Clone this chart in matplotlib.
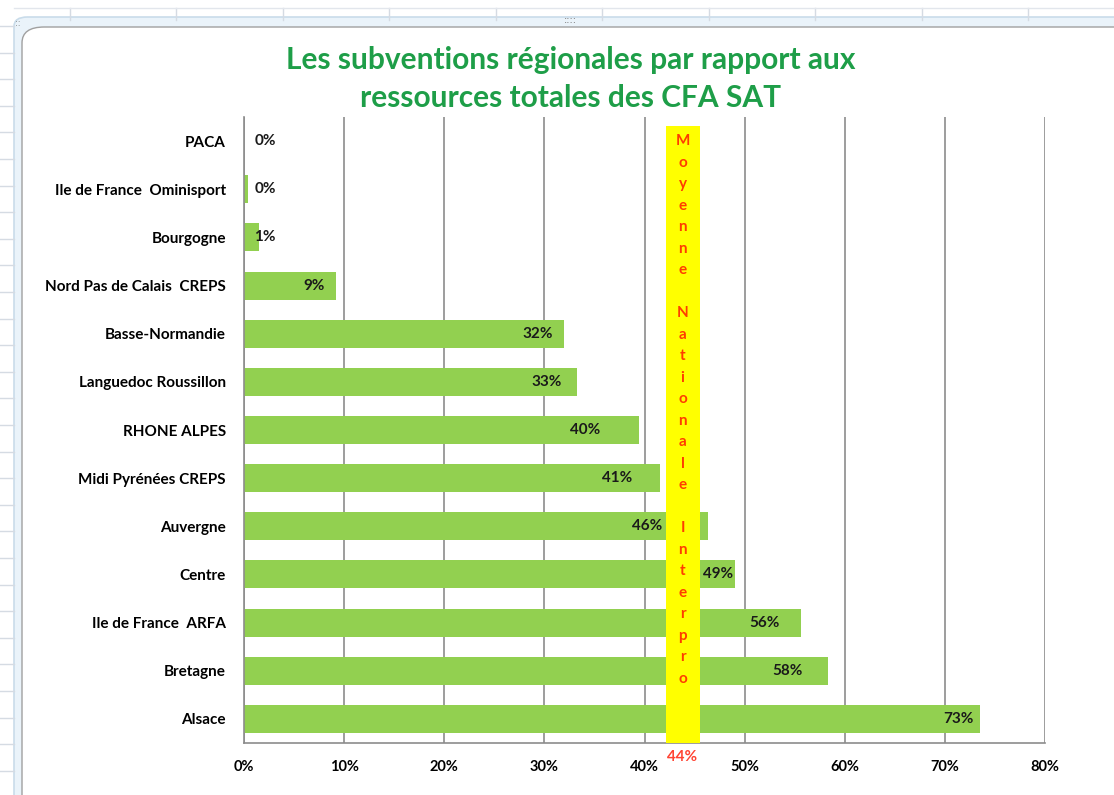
import matplotlib.pyplot as plt
from matplotlib.patches import FancyBboxPatch
from matplotlib.lines import Line2D

# ---------------- Data ----------------
regions = ["PACA", "Ile de France  Ominisport", "Bourgogne", "Nord Pas de Calais  CREPS",
           "Basse-Normandie", "Languedoc Roussillon", "RHONE ALPES", "Midi Pyrénées CREPS",
           "Auvergne", "Centre", "Ile de France  ARFA", "Bretagne", "Alsace"]
shares = [0.0, 0.4, 1.5, 9.2, 32.0, 33.3, 39.5, 41.5, 46.3, 49.0, 55.6, 58.3, 73.5]
share_labels = ["0%", "0%", "1%", "9%", "32%", "33%", "40%", "41%", "46%", "49%", "56%", "58%", "73%"]
mean_value = 44
mean_text = "Moyenne\n\nNationale\n\nInterpro"
x_ticks = [0, 10, 20, 30, 40, 50, 60, 70, 80]

# label right edges (in % units), as placed on the original chart
label_right = [3.2, 3.2, 3.2, 8.1, 30.9, 31.7, 35.6, 38.8, 41.8, 48.9, 53.5, 55.8, 72.9]

FONT = "Lato"
BAR_COLOR = "#92D050"
GRID_COLOR = "#8C8C8C"
TITLE_COLOR = "#1E9E48"
MEAN_COLOR = "#FF3C00"

fig = plt.figure(figsize=(11.14, 7.95), dpi=100)
fig.patch.set_facecolor("white")

# ---------------- spreadsheet background ----------------
W, H = 1114, 795
for x in [70, 176, 283, 389, 496, 602, 709, 815, 922, 1028]:
    fig.add_artist(Line2D([x / W, x / W], [1 - 8 / H, 1 - 20 / H], color="#D5DBE3", lw=1))
fig.add_artist(Line2D([14 / W, 1.0], [1 - 8 / H, 1 - 8 / H], color="#E2E6EC", lw=1))
y = 26
while y < H:
    fig.add_artist(Line2D([0, 14 / W], [1 - y / H, 1 - y / H], color="#D5DBE3", lw=1))
    y += 26.6
fig.add_artist(FancyBboxPatch((14 / W, -0.05), 1.1, 1 - 17 / H + 0.05,
                              boxstyle="round,pad=0,rounding_size=0.012",
                              transform=fig.transFigure, facecolor="#EAF3FA",
                              edgecolor="#C9DCEA", lw=1.2, zorder=0))
fig.add_artist(FancyBboxPatch((22 / W, -0.05), 1.1, 1 - 27 / H + 0.05,
                              boxstyle="round,pad=0,rounding_size=0.02",
                              transform=fig.transFigure, facecolor="white",
                              edgecolor="#A0A0A0", lw=1.0, zorder=0))
fig.text(570 / W, 1 - 20 / H, "::::", ha="center", va="center", fontsize=7, color="#707070")
fig.text(18 / W, 1 - 24 / H, "::", ha="center", va="center", fontsize=6, color="#707070")

# ---------------- chart ----------------
ax = fig.add_axes([244 / W, 1 - 743 / H, (1045 - 244) / W, (743 - 117) / H])
ax.set_facecolor("none")

ypos = list(range(len(regions)))
ax.barh(ypos, shares, height=0.58, color=BAR_COLOR, zorder=2)

ax.set_xlim(0, 80)
ax.set_ylim(len(regions) - 0.5, -0.5)
ax.set_xticks(x_ticks)
ax.set_xticklabels([f"{t}%" for t in x_ticks], fontsize=10.5, fontweight="bold", family=FONT)
ax.set_yticks(ypos)
ax.set_yticklabels(regions, fontsize=11, fontweight="bold", family=FONT)
ax.tick_params(axis="y", length=0, pad=13)
ax.tick_params(axis="x", length=0, pad=12)
ax.xaxis.grid(True, color=GRID_COLOR, lw=1.2, zorder=1)
ax.set_axisbelow(True)
for side in ["top", "right"]:
    ax.spines[side].set_visible(False)
for side in ["left", "bottom"]:
    ax.spines[side].set_color(GRID_COLOR)
    ax.spines[side].set_linewidth(1.2)

for i, (lab, xr) in enumerate(zip(share_labels, label_right)):
    ax.text(xr, i, lab, ha="right", va="center", fontsize=11, fontweight="bold",
            family=FONT, color="#1A1A1A", zorder=3)

# national average band
band_left, band_right = mean_value - 1.9, mean_value + 1.5
band_top = -0.31
ax.fill_between([band_left, band_right], band_top, len(regions) - 0.5,
                color="#FFFF00", zorder=4, lw=0)
center = (band_left + band_right) / 2
k = 0
for word in mean_text.split("\n"):
    if not word:
        k += 1
        continue
    for ch in word:
        ax.text(center, k * 0.4465, ch, ha="center", va="center", fontsize=11,
                fontweight="bold", family=FONT, color=MEAN_COLOR, zorder=5)
        k += 1
ax.annotate(f"{mean_value}%", xy=(center, 0), xycoords=("data", "axes fraction"),
            xytext=(0, -10), textcoords="offset points", ha="center", va="center",
            fontsize=11, fontweight="bold", family=FONT, color="#FF4433")

fig.text(571 / W, 1 - 60 / H, "Les subventions régionales par rapport aux",
         ha="center", va="center", fontsize=21.5, fontweight="bold", family=FONT, color=TITLE_COLOR)
fig.text(571 / W, 1 - 98 / H, "ressources totales des CFA SAT",
         ha="center", va="center", fontsize=21.5, fontweight="bold", family=FONT, color=TITLE_COLOR)

fig.savefig("out.png", dpi=100)
